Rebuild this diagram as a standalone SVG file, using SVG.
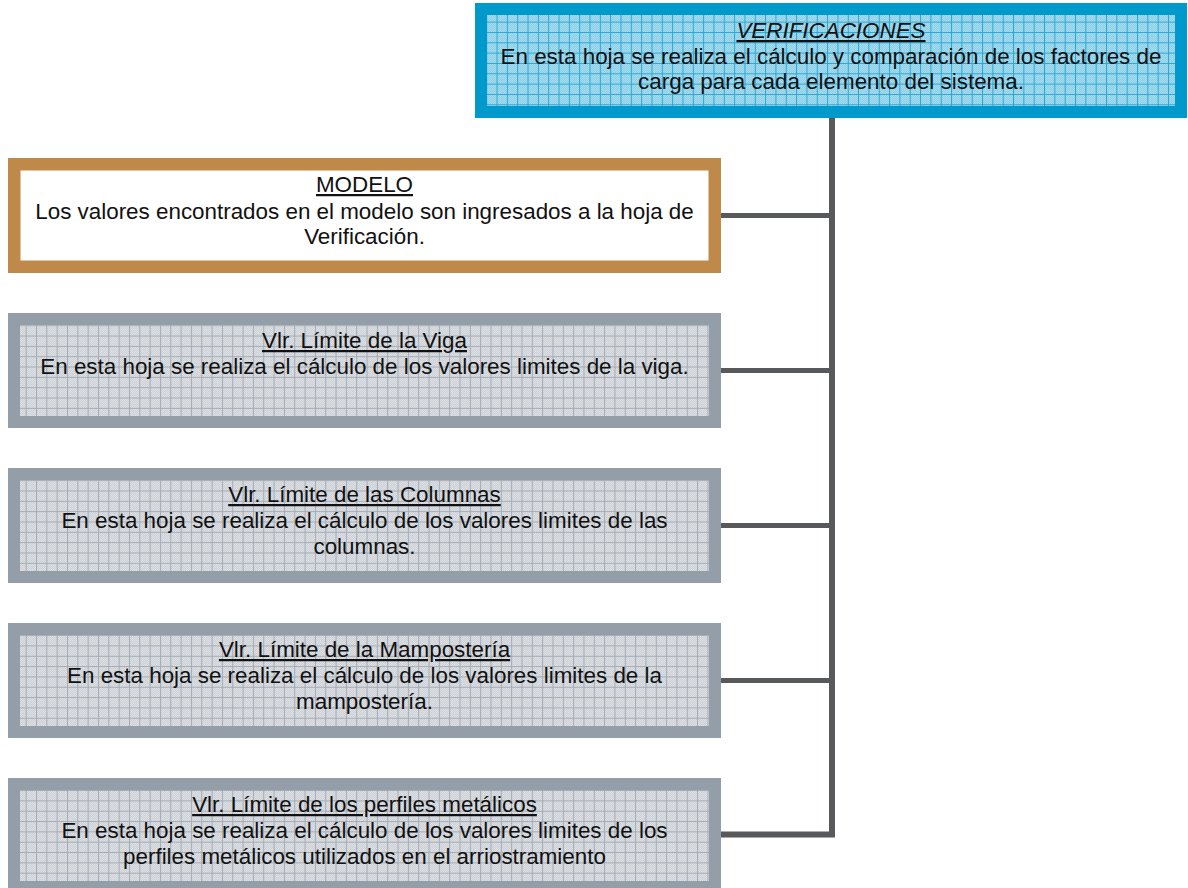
<svg xmlns="http://www.w3.org/2000/svg" width="1188" height="888" viewBox="0 0 1188 888">
<style>
text{font-family:"Liberation Sans",Arial,sans-serif;font-size:22.4px;fill:#111;text-anchor:middle}
.t{text-decoration:underline}
.conn{fill:none;stroke:#58595b;stroke-width:6}
.hz{fill:none;stroke:#58595b;stroke-width:5}
</style>
<defs>
<pattern id="chkB" width="2" height="2" patternUnits="userSpaceOnUse"><rect width="2" height="2" fill="#8ccfe8"/><rect width="1" height="1" fill="#a6dbee"/><rect x="1" y="1" width="1" height="1" fill="#a6dbee"/></pattern>
<pattern id="gridB" x="0.7" y="1" width="10.33" height="10.33" patternUnits="userSpaceOnUse"><path d="M0 0.5H10.33M0.5 0V10.33" stroke="#2aa6d4" stroke-width="1"/></pattern>
<pattern id="chkG" width="2" height="2" patternUnits="userSpaceOnUse"><rect width="2" height="2" fill="#cdd1d6"/><rect width="1" height="1" fill="#dcdfe3"/><rect x="1" y="1" width="1" height="1" fill="#dcdfe3"/></pattern>
<pattern id="gridG" x="5" y="5" width="10.33" height="10.33" patternUnits="userSpaceOnUse"><path d="M0 0.5H10.33M0.5 0V10.33" stroke="#a3abb4" stroke-width="1"/></pattern>
</defs>
<rect width="1188" height="888" fill="#fff"/>
<g id="connectors">
<path class="conn" d="M832 118V834.5H721"/>
<path class="hz" d="M721 215.5H832M721 370.5H832M721 525.5H832M721 680.5H832"/>
</g>
<g id="verificaciones">
<rect x="481" y="9" width="700" height="103" fill="url(#chkB)"/>
<rect x="481" y="9" width="700" height="103" fill="url(#gridB)"/>
<rect x="481" y="9" width="700" height="103" fill="none" stroke="#0099cc" stroke-width="12"/>
<text x="831" y="38" class="t" font-style="italic">VERIFICACIONES</text>
<text x="831" y="63.5">En esta hoja se realiza el cálculo y comparación de los factores de</text>
<text x="831" y="88.5">carga para cada elemento del sistema.</text>
</g>
<g id="modelo">
<rect x="14.25" y="164.25" width="700.5" height="102.5" fill="#fff" stroke="#bf894a" stroke-width="12.5"/>
<text x="364.5" y="192" class="t">MODELO</text>
<text x="364.5" y="218.5">Los valores encontrados en el modelo son ingresados a la hoja de</text>
<text x="364.5" y="243.5">Verificación.</text>
</g>
<g id="viga">
<rect x="14" y="319" width="701" height="103" fill="url(#chkG)"/>
<rect x="14" y="319" width="701" height="103" fill="url(#gridG)"/>
<rect x="14" y="319" width="701" height="103" fill="none" stroke="#939ea8" stroke-width="12"/>
<text x="364.5" y="348" class="t">Vlr. Límite de la Viga</text>
<text x="364.5" y="374">En esta hoja se realiza el cálculo de los valores limites de la viga.</text>
</g>
<g id="columnas">
<rect x="14" y="474" width="701" height="103" fill="url(#chkG)"/>
<rect x="14" y="474" width="701" height="103" fill="url(#gridG)"/>
<rect x="14" y="474" width="701" height="103" fill="none" stroke="#939ea8" stroke-width="12"/>
<text x="364.5" y="502" class="t">Vlr. Límite de las Columnas</text>
<text x="364.5" y="528">En esta hoja se realiza el cálculo de los valores limites de las</text>
<text x="364.5" y="553.5">columnas.</text>
</g>
<g id="mamposteria">
<rect x="14" y="629" width="701" height="103" fill="url(#chkG)"/>
<rect x="14" y="629" width="701" height="103" fill="url(#gridG)"/>
<rect x="14" y="629" width="701" height="103" fill="none" stroke="#939ea8" stroke-width="12"/>
<text x="364.5" y="657" class="t">Vlr. Límite de la Mampostería</text>
<text x="364.5" y="683">En esta hoja se realiza el cálculo de los valores limites de la</text>
<text x="364.5" y="708.5">mampostería.</text>
</g>
<g id="perfiles">
<rect x="14" y="784" width="701" height="103" fill="url(#chkG)"/>
<rect x="14" y="784" width="701" height="103" fill="url(#gridG)"/>
<rect x="14" y="784" width="701" height="103" fill="none" stroke="#939ea8" stroke-width="12"/>
<text x="364.5" y="812" class="t">Vlr. Límite de los perfiles metálicos</text>
<text x="364.5" y="838">En esta hoja se realiza el cálculo de los valores limites de los</text>
<text x="364.5" y="863.5">perfiles metálicos utilizados en el arriostramiento</text>
</g>
</svg>
